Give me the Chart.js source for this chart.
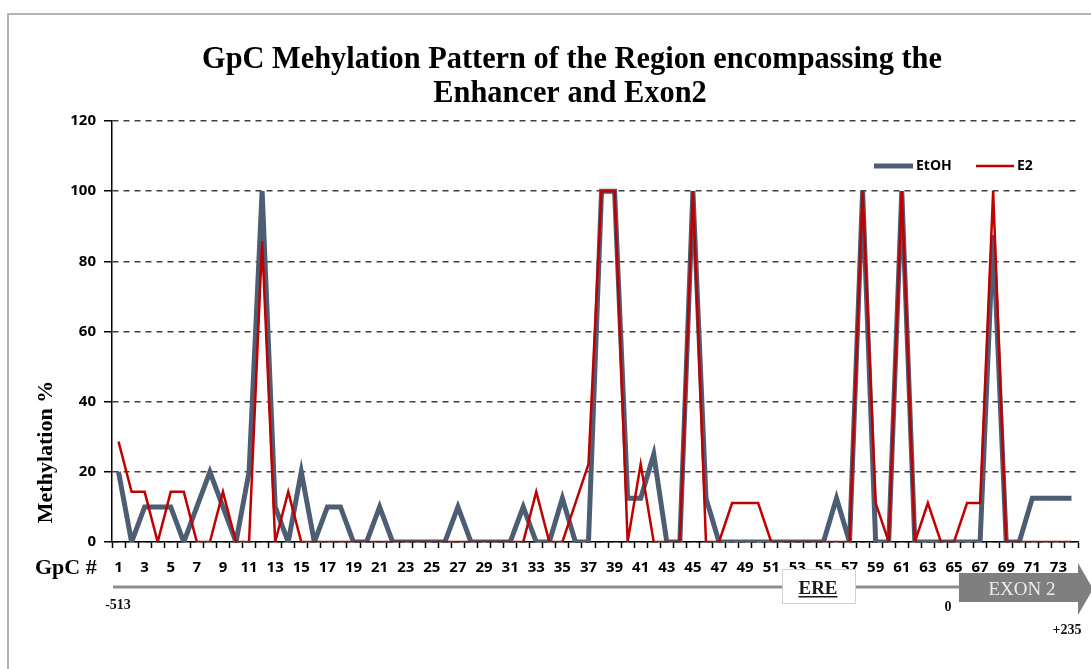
<!DOCTYPE html>
<html>
<head>
<meta charset="utf-8">
<script src="https://cdn.jsdelivr.net/npm/chart.js@4.4.1/dist/chart.umd.min.js"></script>
<style>
  html, body { margin: 0; padding: 0; background: #ffffff; }
  #wrap { width: 1091px; height: 669px; position: relative; }
</style>
</head>
<body>
<div id="wrap"><canvas id="c" width="1091" height="669"></canvas></div>
<script>
// ---- data ----
const gpcLabels = [1,2,3,4,5,6,7,8,9,10,11,12,13,14,15,16,17,18,19,20,21,22,23,24,25,26,27,28,29,30,31,32,33,34,35,36,37,38,39,40,41,42,43,44,45,46,47,48,49,50,51,52,53,54,55,56,57,58,59,60,61,62,63,64,65,66,67,68,69,70,71,72,73,74];

const etohValues = [20,0,10,10,10,0,10,20,10,0,20,100,10,0,20,0,10,10,0,0,10,0,0,0,0,0,10,0,0,0,0,10,0,0,12.5,0,0,100,100,12.5,12.5,25,0,0,100,12.5,0,0,0,0,0,0,0,0,0,12.5,0,100,0,0,100,0,0,0,0,0,0,87.5,0,0,12.5,12.5,12.5,12.5];

const e2Values = [28.6,14.3,14.3,0,14.3,14.3,0,0,14.3,0,0,85.7,0,14.3,0,0,0,0,0,0,0,0,0,0,0,0,0,0,0,0,0,0,14.3,0,0,11.1,22.2,100,100,0,22.2,0,0,0,100,0,0,11.1,11.1,11.1,0,0,0,0,0,0,0,100,11.1,0,100,0,11.1,0,0,11.1,11.1,100,0,0,0,0,0,0];

const yTicks = [0,20,40,60,80,100,120];

const titleLines = ['GpC Mehylation Pattern of the Region encompassing the', 'Enhancer and Exon2'];
const yTitle = 'Methylation %';
const xTitle = 'GpC #';
const seriesNames = ['EtOH', 'E2'];

const GREY = '#4d5d73';
const RED = '#c00000';

const SANS = '"Open Sans", "DejaVu Sans", sans-serif';
const SERIF = '"Liberation Serif", "Times New Roman", serif';

const decor = {
  id: 'decor',
  beforeDraw(chart) {
    const ctx = chart.ctx;
    ctx.save();
    ctx.fillStyle = '#ffffff';
    ctx.fillRect(0, 0, chart.width, chart.height);
    // frame
    ctx.strokeStyle = '#b4b4b4';
    ctx.lineWidth = 2;
    ctx.beginPath();
    ctx.moveTo(8, 669);
    ctx.lineTo(8, 14);
    ctx.lineTo(1091, 14);
    ctx.stroke();
    ctx.restore();
  },
  afterDraw(chart) {
    const ctx = chart.ctx;
    const ca = chart.chartArea;
    ctx.save();
    // title
    ctx.fillStyle = '#000';
    ctx.font = 'bold 31px ' + SERIF;
    ctx.textAlign = 'center';
    ctx.textBaseline = 'alphabetic';
    const w1 = ctx.measureText(titleLines[0]).width;
    const sx = 740 / w1;
    ctx.save();
    ctx.translate(572, 68);
    ctx.scale(sx, 1);
    ctx.fillText(titleLines[0], 0, 0);
    ctx.restore();
    ctx.save();
    ctx.translate(570, 102);
    ctx.scale(sx, 1);
    ctx.fillText(titleLines[1], 0, 0);
    ctx.restore();

    // y title
    ctx.save();
    ctx.translate(52, 452);
    ctx.rotate(-Math.PI / 2);
    ctx.font = 'bold 22px ' + SERIF;
    ctx.textAlign = 'center';
    ctx.textBaseline = 'alphabetic';
    ctx.fillText(yTitle, 0, 0);
    ctx.restore();

    // x title
    ctx.font = 'bold 22px ' + SERIF;
    ctx.textAlign = 'left';
    ctx.textBaseline = 'middle';
    ctx.fillText(xTitle, 35, 568);

    // legend
    const ly = 166;
    ctx.lineCap = 'butt';
    ctx.strokeStyle = GREY; ctx.lineWidth = 5;
    ctx.beginPath(); ctx.moveTo(874, ly); ctx.lineTo(913, ly); ctx.stroke();
    ctx.strokeStyle = RED; ctx.lineWidth = 2.5;
    ctx.beginPath(); ctx.moveTo(976, ly); ctx.lineTo(1014, ly); ctx.stroke();
    ctx.fillStyle = '#000';
    ctx.font = 'bold 14px ' + SANS;
    ctx.textAlign = 'left';
    ctx.textBaseline = 'middle';
    ctx.fillText(seriesNames[0], 916, ly);
    ctx.fillText(seriesNames[1], 1017, ly);

    // region bar under axis
    ctx.strokeStyle = '#8e8e8e';
    ctx.lineWidth = 3;
    ctx.beginPath(); ctx.moveTo(ca.left + 1, 587); ctx.lineTo(960, 587); ctx.stroke();

    // ERE box
    ctx.fillStyle = '#ffffff';
    ctx.fillRect(782, 569, 73, 34);
    ctx.strokeStyle = '#d0d0d0';
    ctx.lineWidth = 1;
    ctx.strokeRect(782.5, 569.5, 73, 34);
    ctx.fillStyle = '#1a1a1a';
    ctx.font = 'bold 19px ' + SERIF;
    ctx.textAlign = 'center';
    ctx.textBaseline = 'alphabetic';
    ctx.fillText('ERE', 818, 594);
    const ew = ctx.measureText('ERE').width;
    ctx.fillRect(818 - ew / 2, 596, ew, 1.5);

    // exon arrow
    ctx.fillStyle = '#7f7f7f';
    ctx.beginPath();
    ctx.moveTo(959, 573);
    ctx.lineTo(1078, 573);
    ctx.lineTo(1078, 563);
    ctx.lineTo(1093, 589);
    ctx.lineTo(1078, 615);
    ctx.lineTo(1078, 602);
    ctx.lineTo(959, 602);
    ctx.closePath();
    ctx.fill();
    ctx.fillStyle = '#ececec';
    ctx.font = '19px ' + SERIF;
    ctx.textAlign = 'center';
    ctx.fillText('EXON 2', 1022, 595);

    // coordinates
    ctx.fillStyle = '#111';
    ctx.font = 'bold 14px ' + SERIF;
    ctx.textAlign = 'center';
    ctx.fillText('-513', 118, 609);
    ctx.fillText('0', 948, 611);
    ctx.fillText('+235', 1067, 634);
    ctx.restore();
  }
};

new Chart(document.getElementById('c'), {
  type: 'line',
  data: {
    labels: gpcLabels,
    datasets: [
      { label: seriesNames[0], data: etohValues, borderColor: GREY, backgroundColor: GREY,
        borderWidth: 5, pointRadius: 0, tension: 0, order: 2, borderJoinStyle: 'miter' },
      { label: seriesNames[1], data: e2Values, borderColor: RED, backgroundColor: RED,
        borderWidth: 2.5, pointRadius: 0, tension: 0, order: 1, borderJoinStyle: 'miter' }
    ]
  },
  options: {
    responsive: false,
    animation: false,
    events: [],
    layout: { padding: { top: 121, right: 13, left: 0, bottom: 0 } },
    plugins: { legend: { display: false }, title: { display: false }, tooltip: { enabled: false } },
    scales: {
      x: {
        type: 'category',
        offset: true,
        afterFit(s) { s.height = 127; },
        grid: { display: true, drawOnChartArea: false, drawTicks: true, tickLength: 6, tickColor: '#000', tickWidth: 1.5, offset: true },
        border: { display: true, color: '#000', width: 1.5 },
        ticks: {
          autoSkip: false, maxRotation: 0, minRotation: 0, padding: 11,
          color: '#000',
          font: { family: SANS, size: 15, weight: 'bold' },
          callback(v, i) { return i % 2 === 0 ? String(gpcLabels[i]) : ''; }
        }
      },
      y: {
        min: 0, max: 120,
        afterFit(s) { s.width = 112; },
        afterBuildTicks(s) { s.ticks = yTicks.map(v => ({ value: v })); },
        grid: { color: '#404040', lineWidth: 1.5, drawTicks: true, tickLength: 8, tickColor: '#000', tickWidth: 1.5 },
        border: { display: true, color: '#000', width: 1.5, dash: [6, 5] },
        ticks: {
          padding: 8, color: '#000',
          font: { family: SANS, size: 15, weight: 'bold' }
        }
      }
    }
  },
  plugins: [decor]
});
</script>
</body>
</html>
